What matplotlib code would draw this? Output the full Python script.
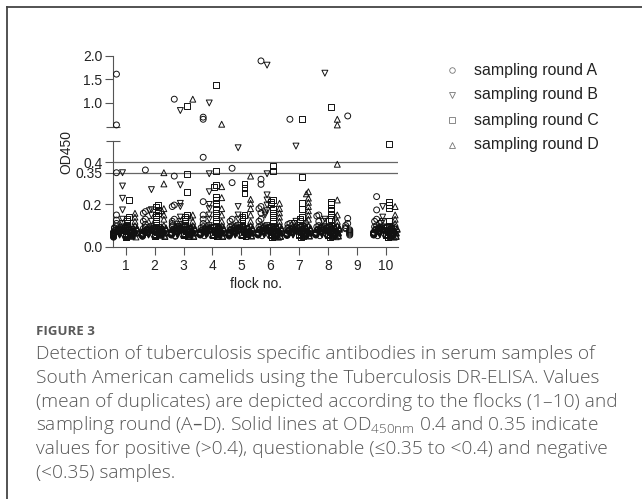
import matplotlib.pyplot as plt
from matplotlib.lines import Line2D

# OD450 values per flock (1-10), one list per sampling round
round_a = [
    [1.61, 0.535, 0.35, 0.15, 0.126, 0.11, 0.098, 0.09, 0.086, 0.083, 0.08, 0.077, 0.075, 0.073, 0.071, 0.069, 0.067, 0.065, 0.063, 0.061, 0.059, 0.057, 0.055, 0.053, 0.051, 0.049, 0.047, 0.045],
    [0.363, 0.166, 0.158, 0.13, 0.12, 0.105, 0.092, 0.086, 0.082, 0.079, 0.076, 0.073, 0.071, 0.069, 0.067, 0.065, 0.063, 0.061, 0.059, 0.057, 0.055, 0.053, 0.051, 0.049],
    [1.08, 0.334, 0.197, 0.19, 0.13, 0.12, 0.11, 0.1, 0.094, 0.09, 0.086, 0.083, 0.08, 0.077, 0.075, 0.073, 0.071, 0.069, 0.067, 0.065, 0.063, 0.061, 0.059, 0.057, 0.055, 0.052, 0.049],
    [0.70, 0.655, 0.423, 0.213, 0.15, 0.13, 0.11, 0.095, 0.09, 0.086, 0.083, 0.08, 0.077, 0.075, 0.073, 0.071, 0.069, 0.067, 0.065, 0.063, 0.061, 0.059, 0.057, 0.055, 0.052],
    [0.371, 0.303, 0.13, 0.12, 0.1, 0.094, 0.09, 0.086, 0.083, 0.08, 0.077, 0.075, 0.073, 0.071, 0.069, 0.067, 0.065, 0.063, 0.061, 0.059, 0.057, 0.055, 0.053, 0.05],
    [1.89, 0.319, 0.295, 0.19, 0.18, 0.16, 0.13, 0.12, 0.1, 0.094, 0.09, 0.086, 0.083, 0.08, 0.077, 0.075, 0.073, 0.071, 0.069, 0.067, 0.065, 0.063, 0.061, 0.059, 0.057, 0.055, 0.052],
    [0.655, 0.11, 0.105, 0.1, 0.09, 0.086, 0.082, 0.079, 0.076, 0.073, 0.071, 0.069, 0.067, 0.065, 0.063, 0.061, 0.059, 0.057, 0.055, 0.053],
    [0.15, 0.145, 0.12, 0.1, 0.094, 0.09, 0.086, 0.083, 0.08, 0.077, 0.075, 0.073, 0.071, 0.069, 0.067, 0.065, 0.063, 0.061, 0.059, 0.057, 0.055, 0.052],
    [0.725, 0.134, 0.11, 0.1, 0.09, 0.085, 0.08, 0.075, 0.07, 0.065, 0.06, 0.055],
    [0.237, 0.174, 0.13, 0.12, 0.1, 0.094, 0.09, 0.086, 0.083, 0.08, 0.077, 0.075, 0.073, 0.071, 0.069, 0.067, 0.065, 0.063, 0.061, 0.059, 0.057, 0.055, 0.052],
]
round_b = [
    [0.35, 0.287, 0.229, 0.174, 0.13, 0.11, 0.094, 0.09, 0.086, 0.083, 0.08, 0.077, 0.075, 0.073, 0.071, 0.069, 0.067, 0.065, 0.063, 0.061, 0.059, 0.057, 0.055, 0.052, 0.049],
    [0.27, 0.175, 0.17, 0.15, 0.12, 0.095, 0.09, 0.086, 0.083, 0.08, 0.077, 0.075, 0.073, 0.071, 0.069, 0.067, 0.065, 0.063, 0.061, 0.059, 0.057, 0.055, 0.052],
    [0.84, 0.292, 0.205, 0.19, 0.14, 0.12, 0.105, 0.096, 0.092, 0.088, 0.085, 0.082, 0.079, 0.076, 0.074, 0.072, 0.07, 0.068, 0.066, 0.064, 0.062, 0.06, 0.058, 0.056, 0.053],
    [1.0, 0.345, 0.26, 0.2, 0.18, 0.15, 0.13, 0.1, 0.094, 0.09, 0.086, 0.083, 0.08, 0.077, 0.075, 0.073, 0.071, 0.069, 0.067, 0.065, 0.063, 0.061, 0.059, 0.057, 0.055, 0.052],
    [0.468, 0.19, 0.15, 0.13, 0.1, 0.094, 0.09, 0.086, 0.083, 0.08, 0.077, 0.075, 0.073, 0.071, 0.069, 0.067, 0.065, 0.063, 0.061, 0.059, 0.057, 0.055, 0.052],
    [1.80, 0.345, 0.245, 0.221, 0.197, 0.17, 0.16, 0.15, 0.1, 0.094, 0.09, 0.086, 0.083, 0.08, 0.077, 0.075, 0.073, 0.071, 0.069, 0.067, 0.065, 0.063, 0.061, 0.059, 0.057, 0.054],
    [0.476, 0.12, 0.11, 0.092, 0.088, 0.084, 0.081, 0.078, 0.075, 0.073, 0.071, 0.069, 0.067, 0.065, 0.063, 0.061, 0.059, 0.057, 0.055],
    [1.63, 0.13, 0.12, 0.095, 0.09, 0.086, 0.083, 0.08, 0.077, 0.075, 0.073, 0.071, 0.069, 0.067, 0.065, 0.063, 0.061, 0.059, 0.057, 0.054, 0.051],
    [],
    [0.19, 0.14, 0.12, 0.11, 0.094, 0.09, 0.086, 0.083, 0.08, 0.077, 0.075, 0.073, 0.071, 0.069, 0.067, 0.065, 0.063, 0.061, 0.059, 0.057, 0.054],
]
round_c = [
    [0.221, 0.14, 0.13, 0.12, 0.11, 0.1, 0.092, 0.088, 0.084, 0.081, 0.078, 0.075, 0.072, 0.07, 0.068, 0.066, 0.064, 0.062, 0.06, 0.058, 0.056, 0.054, 0.052, 0.05, 0.048, 0.046, 0.044],
    [0.197, 0.19, 0.175, 0.16, 0.15, 0.14, 0.13, 0.12, 0.11, 0.095, 0.09, 0.086, 0.082, 0.079, 0.076, 0.073, 0.07, 0.068, 0.066, 0.064, 0.062, 0.06, 0.058, 0.056, 0.054, 0.052, 0.05, 0.048],
    [0.94, 0.345, 0.26, 0.15, 0.14, 0.13, 0.12, 0.11, 0.1, 0.094, 0.09, 0.086, 0.083, 0.08, 0.077, 0.074, 0.072, 0.07, 0.068, 0.066, 0.064, 0.062, 0.06, 0.058, 0.056, 0.054, 0.051],
    [1.38, 0.36, 0.292, 0.282, 0.237, 0.22, 0.2, 0.18, 0.16, 0.14, 0.12, 0.1, 0.094, 0.09, 0.086, 0.082, 0.079, 0.076, 0.073, 0.07, 0.068, 0.066, 0.064, 0.062, 0.06, 0.058, 0.056, 0.054, 0.051, 0.048],
    [0.295, 0.276, 0.255, 0.15, 0.14, 0.13, 0.12, 0.11, 0.1, 0.094, 0.09, 0.086, 0.082, 0.079, 0.076, 0.073, 0.07, 0.068, 0.066, 0.064, 0.062, 0.06, 0.058, 0.056, 0.054, 0.051, 0.048],
    [0.383, 0.36, 0.22, 0.21, 0.2, 0.18, 0.16, 0.14, 0.12, 0.1, 0.094, 0.09, 0.086, 0.082, 0.079, 0.076, 0.073, 0.07, 0.068, 0.066, 0.064, 0.062, 0.06, 0.058, 0.056, 0.053, 0.05, 0.047, 0.044],
    [0.655, 0.33, 0.205, 0.18, 0.14, 0.13, 0.12, 0.1, 0.094, 0.09, 0.086, 0.082, 0.079, 0.076, 0.073, 0.07, 0.068, 0.066, 0.064, 0.062, 0.06, 0.058, 0.056, 0.053, 0.05, 0.047],
    [0.91, 0.213, 0.2, 0.185, 0.17, 0.15, 0.13, 0.12, 0.1, 0.094, 0.09, 0.086, 0.082, 0.079, 0.076, 0.073, 0.07, 0.068, 0.066, 0.064, 0.062, 0.06, 0.058, 0.056, 0.053, 0.05, 0.047],
    [],
    [0.486, 0.213, 0.197, 0.182, 0.12, 0.1, 0.094, 0.09, 0.086, 0.082, 0.079, 0.076, 0.073, 0.07, 0.068, 0.066, 0.064, 0.062, 0.06, 0.058, 0.056, 0.053, 0.05, 0.047, 0.044],
]
round_d = [
    [0.158, 0.14, 0.12, 0.1, 0.094, 0.09, 0.086, 0.082, 0.079, 0.076, 0.073, 0.07, 0.068, 0.066, 0.064, 0.062, 0.06, 0.058, 0.056, 0.054, 0.052, 0.049, 0.046],
    [0.35, 0.297, 0.18, 0.17, 0.15, 0.13, 0.1, 0.094, 0.09, 0.086, 0.082, 0.079, 0.076, 0.073, 0.07, 0.068, 0.066, 0.064, 0.062, 0.06, 0.058, 0.056, 0.054, 0.051, 0.048],
    [1.08, 0.15, 0.14, 0.12, 0.1, 0.094, 0.09, 0.086, 0.082, 0.079, 0.076, 0.073, 0.07, 0.068, 0.066, 0.064, 0.062, 0.06, 0.058, 0.056, 0.054, 0.051, 0.048],
    [0.55, 0.284, 0.232, 0.18, 0.15, 0.12, 0.1, 0.094, 0.09, 0.086, 0.082, 0.079, 0.076, 0.073, 0.07, 0.068, 0.066, 0.064, 0.062, 0.06, 0.058, 0.056, 0.054, 0.051, 0.048],
    [0.334, 0.224, 0.205, 0.18, 0.15, 0.12, 0.1, 0.094, 0.09, 0.086, 0.082, 0.079, 0.076, 0.073, 0.07, 0.068, 0.066, 0.064, 0.062, 0.06, 0.058, 0.056, 0.053, 0.05],
    [0.205, 0.18, 0.16, 0.14, 0.12, 0.1, 0.094, 0.09, 0.086, 0.082, 0.079, 0.076, 0.073, 0.07, 0.068, 0.066, 0.064, 0.062, 0.06, 0.058, 0.056, 0.054, 0.051, 0.048, 0.045],
    [0.26, 0.25, 0.23, 0.21, 0.19, 0.17, 0.15, 0.13, 0.12, 0.1, 0.094, 0.09, 0.086, 0.082, 0.079, 0.076, 0.073, 0.07, 0.068, 0.066, 0.064, 0.062, 0.06, 0.058, 0.056, 0.053, 0.05],
    [0.655, 0.535, 0.39, 0.221, 0.15, 0.14, 0.12, 0.1, 0.094, 0.09, 0.086, 0.082, 0.079, 0.076, 0.073, 0.07, 0.068, 0.066, 0.064, 0.062, 0.06, 0.058, 0.056, 0.053, 0.05, 0.047],
    [],
    [0.19, 0.15, 0.13, 0.11, 0.095, 0.09, 0.086, 0.082, 0.079, 0.076, 0.073, 0.07, 0.068, 0.066, 0.064, 0.062, 0.06, 0.058, 0.056, 0.054, 0.051, 0.048, 0.045],
]

flocks = [1, 2, 3, 4, 5, 6, 7, 8, 9, 10]
rounds = [round_a, round_b, round_c, round_d]
labels = ["sampling round A", "sampling round B", "sampling round C", "sampling round D"]
markers = ["o", "v", "s", "^"]
shifts = [-0.32, -0.11, 0.11, 0.32]
cutoffs = [0.35, 0.4]

W, H = 642, 499
fig = plt.figure(figsize=(W / 100, H / 100), dpi=100)
tick_font = "Liberation Sans"
ink = "#222222"
axis_col = "#555555"

# frame of the figure panel (left and top edges only)
fig.add_artist(Line2D([7 / W, 7 / W], [0, 1 - 6.5 / H], color="#444444", lw=1.3, transform=fig.transFigure))
fig.add_artist(Line2D([7 / W, 1], [1 - 6.5 / H, 1 - 6.5 / H], color="#444444", lw=1.3, transform=fig.transFigure))

ax_lo = fig.add_axes([112.7 / W, 1 - 246.7 / H, 285.6 / W, 105.7 / H])
ax_hi = fig.add_axes([112.7 / W, 1 - 126.6 / H, 285.6 / W, 70.9 / H])


def spread(vals):
    # simple column scatter: nudge points that sit close to each other
    pattern = [0, -0.07, 0.07, -0.035, 0.035, -0.1, 0.1]
    order = sorted(vals, reverse=True)
    xs = []
    for i, v in enumerate(order):
        k = sum(1 for u in order[:i] if abs(u - v) < 0.011)
        xs.append(pattern[k % len(pattern)])
    return order, xs


for data, m, dx in zip(rounds, markers, shifts):
    for f, vals in zip(flocks, data):
        if not vals:
            continue
        ys, offs = spread(vals)
        xs = [f + dx + o for o in offs]
        lo = [(x, y) for x, y in zip(xs, ys) if y < 0.5]
        hi = [(x, y) for x, y in zip(xs, ys) if y >= 0.5]
        for ax, pts in ((ax_lo, lo), (ax_hi, hi)):
            if pts:
                ax.scatter([p[0] for p in pts], [p[1] for p in pts], marker=m, s=18,
                           facecolors="none", edgecolors="#111111", linewidths=0.7,
                           clip_on=False, zorder=3)

for c in cutoffs:
    ax_lo.axhline(c, color="#666666", lw=0.9, zorder=1)

for ax in (ax_lo, ax_hi):
    ax.set_xlim(0.55, 10.43)
    ax.patch.set_visible(False)
    for s in ("top", "right"):
        ax.spines[s].set_visible(False)
    ax.spines["left"].set_color(axis_col)
    ax.spines["bottom"].set_color(axis_col)
    ax.tick_params(axis="y", length=6, width=0.8, color=axis_col, pad=1.5,
                   labelsize=10, labelcolor=ink)
    ax.tick_params(axis="y", which="minor", direction="inout", length=10, width=0.8, color=axis_col)

ax_hi.spines["bottom"].set_visible(False)
ax_hi.set_xticks([])
ax_hi.set_ylim(0.5, 2.0)
ax_hi.set_yticks([1.0, 1.5, 2.0])
ax_hi.set_yticklabels(["1.0", "1.5", "2.0"], fontfamily=tick_font)
ax_hi.set_yticks([0.5], minor=True)

ax_lo.set_ylim(0, 0.5)
ax_lo.set_yticks([0.0, 0.2, 0.35, 0.4])
ax_lo.set_yticklabels(["0.0", "0.2", "0.35", "0.4"], fontfamily=tick_font)
ax_lo.set_yticks([0.5], minor=True)
ax_lo.set_xticks(flocks)
ax_lo.set_xticklabels([str(f) for f in flocks], fontfamily=tick_font)
ax_lo.tick_params(axis="x", length=6, width=0.8, color=axis_col, pad=3, labelsize=10, labelcolor=ink)
ax_lo.set_xlabel("flock no.", fontsize=10, fontfamily=tick_font, color=ink, labelpad=3)

fig.text(66 / W, 1 - 152 / H, "OD450", rotation=90, ha="center", va="center",
         fontsize=10, fontfamily=tick_font, color=ink)

# legend drawn by hand to sit where the original puts it
for i, (m, lab) in enumerate(zip(markers, labels)):
    y = 1 - (70 + 25 * i) / H
    fig.add_artist(Line2D([451.7 / W], [y], marker=m, markersize=4, markerfacecolor="none",
                          markeredgecolor="#777777", markeredgewidth=0.6, linestyle="none",
                          transform=fig.transFigure))
    fig.text(474 / W, y, lab, ha="left", va="center", fontsize=11.4,
             fontfamily=tick_font, color=ink)

# caption
cap_font = ["Open Sans", "DejaVu Sans"]
cap_col = "#555555"
fig.text(36 / W, 1 - 331.7 / H, "FIGURE 3", ha="left", va="center", fontsize=9.5,
         fontfamily=cap_font, fontweight="bold", color="#5a5a5a")
caption = [
    "Detection of tuberculosis specific antibodies in serum samples of",
    "South American camelids using the Tuberculosis DR-ELISA. Values",
    "(mean of duplicates) are depicted according to the flocks (1\u201310) and",
    "sampling round (A\u2013D). Solid lines at OD$_{\\mathregular{450nm}}$ 0.4 and 0.35 indicate",
    "values for positive (>0.4), questionable (\u22640.35 to <0.4) and negative",
    "(<0.35) samples.",
]
line_y = [354, 377.8, 401.6, 425.4, 449.2, 473]
for txt, yy in zip(caption, line_y):
    fig.text(36 / W, 1 - yy / H, txt, ha="left", va="center", fontsize=13.8,
             fontfamily=cap_font, fontweight="light", color=cap_col)

fig.savefig("out.png", dpi=100)
